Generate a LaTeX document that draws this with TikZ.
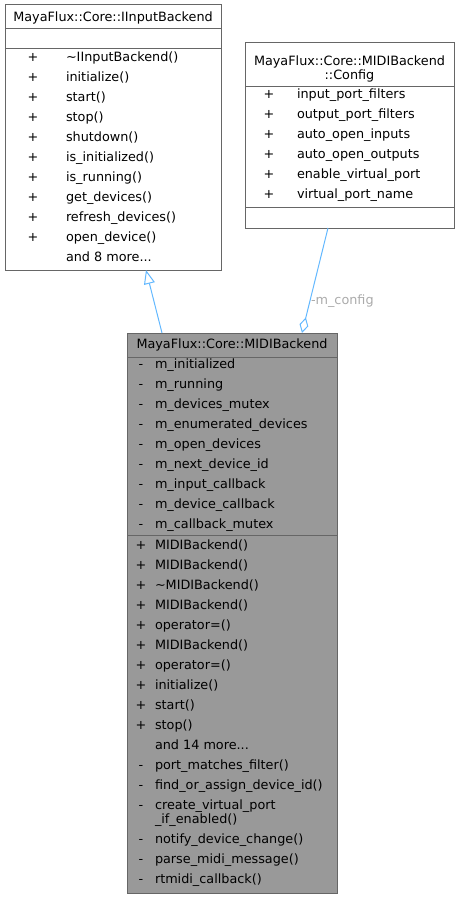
\documentclass[tikz,border=0pt]{standalone}
\usepackage{fontspec}
\setmainfont{DejaVu Sans}
\usetikzlibrary{arrows.meta}
\definecolor{edgeblue}{HTML}{63B8FF}
\definecolor{boxborder}{HTML}{666666}
\definecolor{boxfill}{HTML}{999999}
\definecolor{lblgray}{HTML}{ABABAB}
\begin{document}
\begin{tikzpicture}[x=1pt,y=-1pt,
  every node/.style={font=\fontsize{12.8}{15}\selectfont, inner sep=0pt, outer sep=0pt},
  umlbox/.style={draw=boxborder, line width=1pt, fill=white},
  umlboxdark/.style={draw=boxborder, line width=1pt, fill=boxfill},
  sepline/.style={draw=boxborder, line width=1pt},
  rowtext/.style={anchor=base west},
  marker/.style={anchor=base},
  titletext/.style={anchor=base},
  edge/.style={draw=edgeblue, line width=1pt},
  lbl/.style={text=lblgray, anchor=west}]
\useasboundingbox (0,0) rectangle (461,899);

% ---- boxes ----
\node[umlbox, minimum width=216pt, minimum height=265pt] (iib) at (113,137.5) {};
\node[umlbox, minimum width=209pt, minimum height=185pt] (cfg) at (349.5,135.5) {};
\node[umlboxdark, minimum width=210pt, minimum height=560pt] (midi) at (232,613) {};

% separators
\draw[sepline] (iib.west |- 0,29) -- (iib.east |- 0,29);
\draw[sepline] (iib.west |- 0,49) -- (iib.east |- 0,49);
\draw[sepline] (cfg.west |- 0,86) -- (cfg.east |- 0,86);
\draw[sepline] (cfg.west |- 0,207) -- (cfg.east |- 0,207);
\draw[sepline] (midi.west |- 0,357) -- (midi.east |- 0,357);
\draw[sepline] (midi.west |- 0,535) -- (midi.east |- 0,535);

% ---- titles ----
\node[titletext] (iibtitle) at (113,21.5) {MayaFlux::Core::IInputBackend};
\node[titletext] (cfgtitleA) at (349.5,66) {MayaFlux::Core::MIDIBackend};
\node[titletext] (cfgtitleB) at (349.5,79.5) {::Config};
\node[titletext] (midititle) at (232,348.5) {MayaFlux::Core::MIDIBackend};

% ---- IInputBackend methods ----
\foreach \t [count=\i from 0] in {\textasciitilde IInputBackend(), initialize(), start(), stop(), shutdown(), is\_initialized(), is\_running(), get\_devices(), refresh\_devices(), open\_device()} {
  \node[marker] (iibm\i) at (33,{61.5+20*\i}) {+};
  \node[rowtext] (iibt\i) at (66,{61.5+20*\i}) {\t};
}
\node[rowtext] (iibmore) at (66,261.5) {and 8 more...};

% ---- Config attributes ----
\foreach \t [count=\i from 0] in {input\_port\_filters, output\_port\_filters, auto\_open\_inputs, auto\_open\_outputs, enable\_virtual\_port, virtual\_port\_name} {
  \node[marker] (cfgm\i) at (269,{98.5+20*\i}) {+};
  \node[rowtext] (cfgt\i) at (297,{98.5+20*\i}) {\t};
}

% ---- MIDIBackend attributes ----
\foreach \t [count=\i from 0] in {m\_initialized, m\_running, m\_devices\_mutex, m\_enumerated\_devices, m\_open\_devices, m\_next\_device\_id, m\_input\_callback, m\_device\_callback, m\_callback\_mutex} {
  \node[marker] (midam\i) at (141,{368.5+20*\i}) {-};
  \node[rowtext] (midat\i) at (155,{368.5+20*\i}) {\t};
}

% ---- MIDIBackend public methods ----
\foreach \t [count=\i from 0] in {MIDIBackend(), MIDIBackend(), \textasciitilde MIDIBackend(), MIDIBackend(), operator=(), MIDIBackend(), operator=(), initialize(), start(), stop()} {
  \node[marker] (midpm\i) at (141,{549.5+20*\i}) {+};
  \node[rowtext] (midpt\i) at (155,{549.5+20*\i}) {\t};
}
\node[rowtext] (midmore) at (155,749.5) {and 14 more...};

% ---- MIDIBackend private methods ----
\node[marker] (midq1m) at (141,769.5) {-};
\node[rowtext] (midq1) at (155,769.5) {port\_matches\_filter()};
\node[marker] (midq2m) at (141,789.5) {-};
\node[rowtext] (midq2) at (155,789.5) {find\_or\_assign\_device\_id()};
\node[marker] (midq3m) at (141,809.5) {-};
\node[rowtext] (midq3) at (155,809.5) {create\_virtual\_port};
\node[rowtext] (midq3b) at (155,823.5) {\_if\_enabled()};
\node[marker] (midq4m) at (141,843.5) {-};
\node[rowtext] (midq4) at (155,843.5) {notify\_device\_change()};
\node[marker] (midq5m) at (141,863.5) {-};
\node[rowtext] (midq5) at (155,863.5) {parse\_midi\_message()};
\node[marker] (midq6m) at (141,883.5) {-};
\node[rowtext] (midq6) at (155,883.5) {rtmidi\_callback()};

% ---- connectors ----
\draw[edge, -{Triangle[open, length=14pt, width=11pt]}]
  ([xshift=35pt]midi.north west) -- ([xshift=141pt]iib.south west);
\draw[edge, {Diamond[open, length=16pt, width=9pt]}-]
  ([xshift=175pt]midi.north west) -- ([xshift=83pt]cfg.south west);
\node[lbl] (mcfg) at (311,301) {-m\_config};
\end{tikzpicture}
\end{document}
